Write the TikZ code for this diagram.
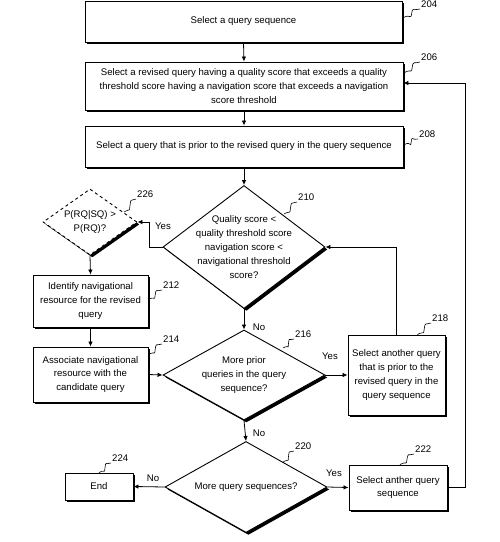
\documentclass[tikz,border=0pt]{standalone}
\usepackage{fontspec}
\setmainfont{Liberation Sans}
\usepackage{tikz}
\usetikzlibrary{arrows.meta, positioning, shapes.geometric, shadows, calc}

\begin{document}
\begin{tikzpicture}[
      x=1pt, y=1pt,
      every node/.style={font=\fontsize{9.6}{13.8}\selectfont},
      box/.style={draw, line width=0.9pt, fill=white, align=center, inner sep=2pt,
                  drop shadow={shadow xshift=1.6pt, shadow yshift=-1.6pt, fill=black, opacity=1}},
      dia/.style={draw, diamond, line width=0.9pt, fill=white, inner sep=0pt,
                  drop shadow={shadow xshift=2.4pt, shadow yshift=-2.4pt, fill=black, opacity=1}},
      intext/.style={align=center},
      arr/.style={-{Latex[length=5pt, width=4.5pt]}, line width=0.8pt},
      num/.style={anchor=south west, inner sep=1pt},
      ans/.style={inner sep=1pt},
      squig/.style={line width=0.6pt, to path={.. controls +(7,4) and +(-1,-7) ..
                  ($(\tikztostart)!.5!(\tikztotarget)$) .. controls +(1,7) and +(-6,-2) .. (\tikztotarget)}}
  ]
    \useasboundingbox (0,0) rectangle (500,-542);

    % process boxes
    \node[box, minimum width=317pt, minimum height=41pt] (b204) at (243.5,-21.5) {Select a query sequence};
    \node[box, minimum width=318pt, minimum height=48pt] (b206) at (244,-86)
          {Select a revised query having a quality score that exceeds a quality\\
           threshold score having a navigation score that exceeds a navigation\\
           score threshold};
    \node[box, minimum width=318pt, minimum height=41pt] (b208) at (244,-146.5)
          {Select a query that is prior to the revised query in the query sequence};
    \node[box, minimum width=115pt, minimum height=52pt] (b212) at (90.5,-301)
          {Identify navigational\\resource for the revised\\query};
    \node[box, minimum width=115pt, minimum height=55pt] (b214) at (90.5,-374.5)
          {Associate navigational\\resource with the\\candidate query};
    \node[box, minimum width=97pt, minimum height=80pt] (b218) at (396.5,-375)
          {Select another query\\that is prior to the\\revised query in the\\query sequence};
    \node[box, minimum width=68pt, minimum height=27pt] (b224) at (99,-486.5) {End};
    \node[box, minimum width=98pt, minimum height=45pt] (b222) at (398,-487.5)
          {Select anther query\\sequence};

    % decisions
    \node[dia, minimum width=162pt, minimum height=123pt,
          label={[intext]center:Quality score <\\quality threshold score\\navigation score <\\navigational threshold\\score?}]
          (d210) at (244,-247) {};
    \node[dia, dashed, minimum width=94pt, minimum height=66pt,
          label={[intext]center:P(RQ|SQ) >\\P(RQ)?}]
          (d226) at (90,-222) {};
    \node[dia, minimum width=162pt, minimum height=90pt,
          label={[intext]center:More prior\\queries in the query\\sequence?}]
          (d216) at (244,-375) {};
    \node[dia, minimum width=162pt, minimum height=91pt,
          label={[intext]center:More query sequences?}]
          (d220) at (246,-487) {};

    % reference numbers
    \node[num] (n204) at (420,-9)   {204};
    \node[num] (n206) at (420,-62)  {206};
    \node[num] (n208) at (418,-139) {208};
    \node[num] (n210) at (297,-202) {210};
    \node[num] (n226) at (136,-199) {226};
    \node[num] (n212) at (162,-290) {212};
    \node[num] (n214) at (162,-344) {214};
    \node[num] (n216) at (294,-339) {216};
    \node[num] (n218) at (431,-323) {218};
    \node[num] (n220) at (294,-451) {220};
    \node[num] (n222) at (414,-454) {222};
    \node[num] (n224) at (111,-463) {224};

    \draw[squig] ($(b204.north east)+(1,-17)$) to (n204.south west);
    \draw[squig] ($(b206.north east)+(1,-11)$) to (n206.south west);
    \draw[squig] ($(b208.north east)+(1,-19)$) to (n208.south west);
    \draw[squig] (284,-214) to (n210.south west);
    \draw[squig] (124,-212) to (n226.south west);
    \draw[squig] ($(b212.north east)+(0,-25)$) to (n212.south west);
    \draw[squig] ($(b214.north east)+(0,-8)$) to (n214.south west);
    \draw[squig] (283,-348) to (n216.south west);
    \draw[squig] ($(b218.north)+(21,0)$) to (n218.south west);
    \draw[squig] (283,-462) to (n220.south west);
    \draw[squig] ($(b222.north)+(2,0)$) to (n222.south west);
    \draw[squig] ($(b224.north)+(0,0)$) to (n224.south west);

    % flow
    \draw[arr] (b204.south) -- (b206.north);
    \draw[arr] (b206.south) -- (b208.north);
    \draw[arr] (b208.south) -- (d210.north);
    \draw[arr] (d210.west) -- ++(-13,0) |- (d226.east);
    \draw[arr] (d226.south) -- (b212.north);
    \draw[arr] (b212.south) -- (b214.north);
    \draw[arr] (b214.east) -- (d216.west);
    \draw[arr] (d210.south) -- (d216.north);
    \draw[arr] (d216.east) -- (b218.west);
    \draw[arr] (b218.north) |- (d210.east);
    \draw[arr] (d216.south) -- (d220.north);
    \draw[arr] (d220.west) -- (b224.east);
    \draw[arr] (d220.east) -- (b222.west);
    \draw[arr] (b222.east) -- ++(18,0) |- ($(b206.east)+(0,3)$);

    % branch answers
    \node[ans] (yes210) at (163,-226) {Yes};
    \node[ans] (no210)  at (259,-327) {No};
    \node[ans] (yes216) at (330,-356) {Yes};
    \node[ans] (no216)  at (259,-433) {No};
    \node[ans] (no220)  at (153,-478) {No};
    \node[ans] (yes220) at (334,-473) {Yes};
\end{tikzpicture}
\end{document}
